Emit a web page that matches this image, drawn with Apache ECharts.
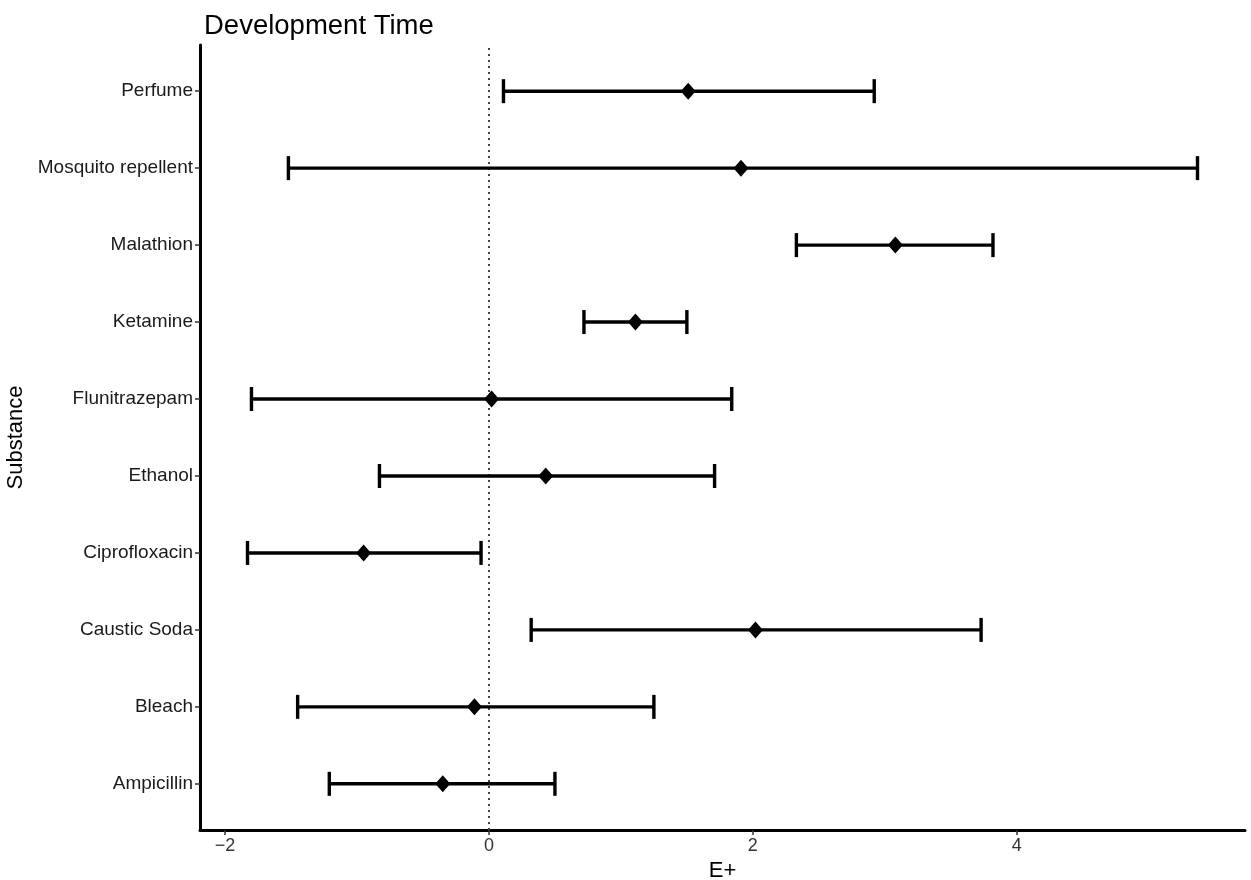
<!DOCTYPE html>
<html>
<head>
<meta charset="utf-8">
<script src="https://cdn.jsdelivr.net/npm/echarts@6/dist/echarts.min.js"></script>
<style>
  html, body { margin: 0; padding: 0; background: #fff; }
  #chart { width: 1251px; height: 880px; }
</style>
</head>
<body>
<div id="chart"></div>
<script>
// Substances, listed bottom to top
const substances = ['Ampicillin', 'Bleach', 'Caustic Soda', 'Ciprofloxacin', 'Ethanol',
  'Flunitrazepam', 'Ketamine', 'Malathion', 'Mosquito repellent', 'Perfume'];
// Effect estimates with lower and upper interval bounds
const estimate = [-0.35, -0.11, 2.02, -0.95, 0.43, 0.02, 1.11, 3.08, 1.91, 1.51];
const lower    = [-1.21, -1.45, 0.32, -1.83, -0.83, -1.80, 0.72, 2.33, -1.52, 0.11];
const upper    = [ 0.50,  1.25, 3.73, -0.06,  1.71,  1.84, 1.50, 3.82,  5.37, 2.92];
const xTicks = [-2, 0, 2, 4];

const rowIdx = substances.map((_, i) => i);
const fontFamily = '"Liberation Sans", Arial, Helvetica, sans-serif';

const chart = echarts.init(document.getElementById('chart'), null, { renderer: 'canvas' });

chart.setOption({
  backgroundColor: '#ffffff',
  animation: false,
  title: {
    text: 'Development Time',
    left: 199,
    top: 7,
    textStyle: { fontFamily, fontSize: 27.5, fontWeight: 'normal', color: '#000' }
  },
  grid: { left: 200, right: 6, top: 45, bottom: 50, containLabel: false, outerBoundsMode: 'none' },
  xAxis: {
    type: 'value',
    min: -2.19,
    max: 5.73,
    name: 'E+',
    nameLocation: 'middle',
    nameGap: 28,
    nameTextStyle: { fontFamily, fontSize: 22, color: '#000' },
    axisLine: { show: true, onZero: false, lineStyle: { color: '#000', width: 3 } },
    axisTick: { show: true, length: 5, customValues: xTicks, lineStyle: { color: '#333', width: 1.5 } },
    axisLabel: {
      customValues: xTicks,
      fontFamily, fontSize: 18, color: '#333', margin: 7,
      formatter: v => (v < 0 ? '\u2212' + Math.abs(v) : String(v))
    },
    splitLine: { show: false }
  },
  yAxis: {
    type: 'value',
    min: -0.6,
    max: 9.6,
    name: 'Substance',
    nameLocation: 'middle',
    nameGap: 164,
    nameRotate: 90,
    nameTextStyle: { fontFamily, fontSize: 22, color: '#000' },
    axisLine: { show: true, onZero: false, lineStyle: { color: '#000', width: 3 } },
    axisTick: { show: true, length: 5, customValues: rowIdx, lineStyle: { color: '#333', width: 1.5 } },
    axisLabel: {
      customValues: rowIdx,
      fontFamily, fontSize: 19, color: '#1a1a1a', margin: 7,
      formatter: v => substances[Math.round(v)]
    },
    splitLine: { show: false }
  },
  series: [
    {
      // interval bars with end caps
      type: 'custom',
      z: 3,
      data: rowIdx.map(i => [i, lower[i], upper[i]]),
      encode: { x: [1, 2], y: 0 },
      renderItem: function (params, api) {
        const y = api.value(0);
        const a = api.coord([api.value(1), y]);
        const b = api.coord([api.value(2), y]);
        const cap = 12;
        const style = { stroke: '#000', lineWidth: 3.4 };
        return {
          type: 'group',
          children: [
            { type: 'line', shape: { x1: a[0], y1: a[1], x2: b[0], y2: b[1] }, style },
            { type: 'line', shape: { x1: a[0], y1: a[1] - cap, x2: a[0], y2: a[1] + cap }, style },
            { type: 'line', shape: { x1: b[0], y1: b[1] - cap, x2: b[0], y2: b[1] + cap }, style }
          ]
        };
      }
    },
    {
      // point estimates
      type: 'scatter',
      z: 4,
      symbol: 'diamond',
      symbolSize: [15, 17],
      itemStyle: { color: '#000', opacity: 1 },
      data: rowIdx.map(i => [estimate[i], i]),
      markLine: {
        silent: true,
        symbol: 'none',
        z: 1,
        label: { show: false },
        lineStyle: { color: '#444', width: 2, type: [2, 4] },
        data: [{ xAxis: 0 }]
      }
    }
  ]
});
</script>
</body>
</html>
